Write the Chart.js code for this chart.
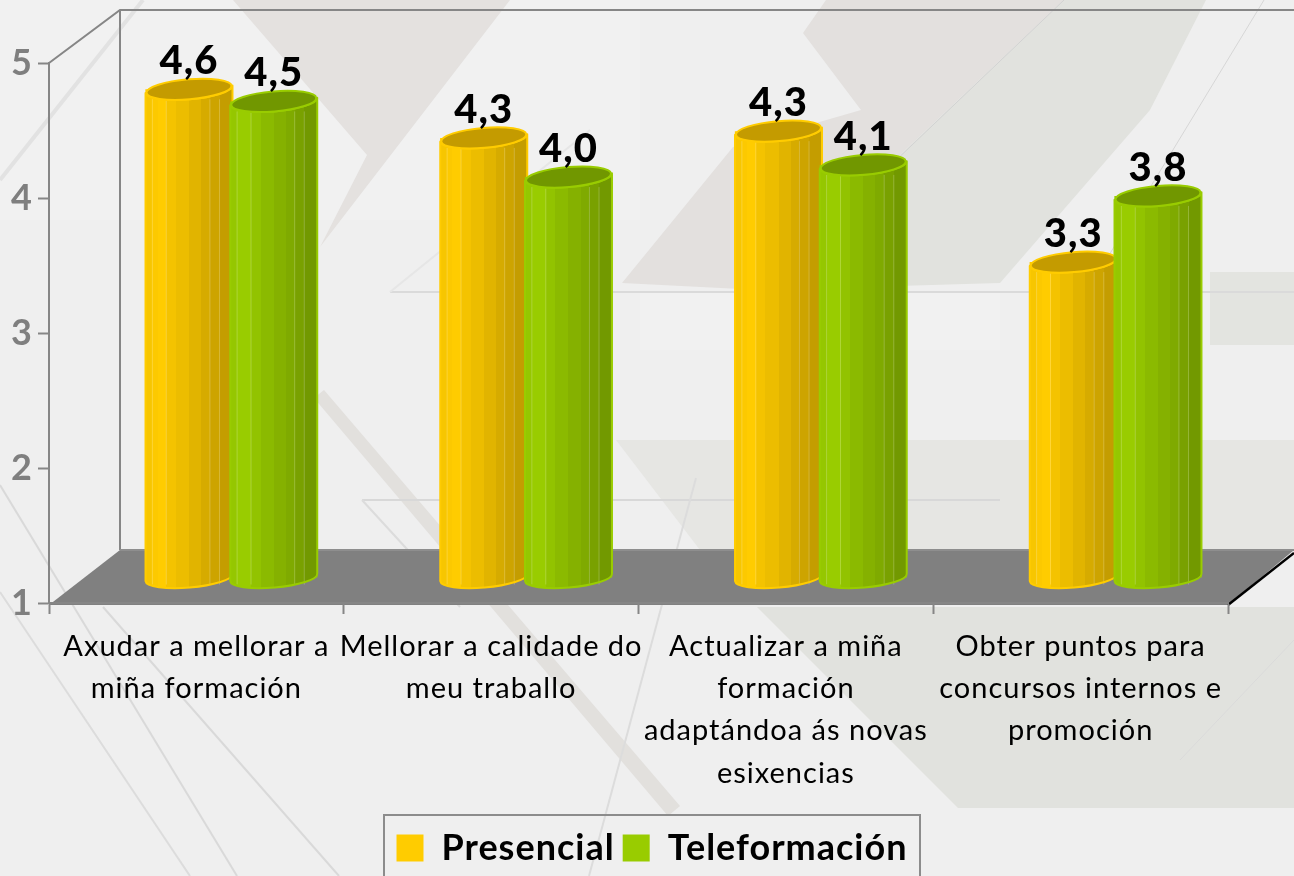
<!DOCTYPE html>
<html><head><meta charset="utf-8">
<style>html,body{margin:0;padding:0;background:#efefef;overflow:hidden}canvas{display:block}</style>
<script src="https://cdn.jsdelivr.net/npm/chart.js@4"></script>
</head><body><canvas id="c" width="1294" height="876"></canvas>
<script>
const categories = [
  ["Axudar a mellorar a","miña formación"],
  ["Mellorar a calidade do","meu traballo"],
  ["Actualizar a miña","formación","adaptándoa ás novas","esixencias"],
  ["Obter puntos para","concursos internos e","promoción"]
];
const presencial = [4.62, 4.26, 4.31, 3.34];
const teleformacion = [4.53, 3.97, 4.06, 3.83];
const yTicks = [1,2,3,4,5];

const FONT = 'Lato, Carlito, "Open Sans", sans-serif';
const DEPTH_X = 35, DEPTH_Y = 25;
const facetStops = [0,.08,.14,.24,.35,.5,.64,.74,.85,1];
const facetColors = [
  ['#f7c600','#fcc900','#ffcc00','#f4c300','#ecbd00','#e1b400','#d6ab00','#cda400','#c49d00'],
  ['#95c700','#99cc00','#99cc00','#92c300','#8bba00','#85b100','#7faa00','#79a100','#729900']
];
const rimColors = ['#ffcc00','#99cc00'];
const capColors = ['#c49b00','#719700'];
const bgShapes = [
  ['#e4e1df',[[233,0],[510,0],[320,247],[367,155]]],
  ['#e3e0de',[[826,0],[1064,0],[905,150],[760,290],[622,283],[733,147],[861,110],[803,33]]],
  ['#e1e2de',[[1064,0],[1206,0],[1150,110],[1000,283],[760,290],[905,150]]],
  ['#e6e6e3',[[616,440],[1294,440],[1294,550],[700,550]]],
  ['#e1e2de',[[757,607],[1294,607],[1294,808],[958,808]]],
  ['#e3e4e0',[[1210,272],[1294,272],[1294,345],[1210,345]]],
  ['#f1f1f1',[[640,292],[1000,292],[1000,350],[640,350]]],
  ['#e2e0dd',[[314,398],[324,390],[680,806],[668,816]]]
];
const bgLines = [
  [[143,0],[0,180],'#e2e2e2',4],
  [[0,485],[237,876],'#d9d9d9',2],
  [[0,592],[190,876],'#dcdcdc',2],
  [[103,607],[339,876],'#d9d9d9',2],
  [[362,500],[1000,500],'#d8d8d8',2],
  [[362,500],[460,607],'#dcdcdc',2],
  [[390,292],[1294,292],'#dadada',2],
  [[390,292],[590,130],'#e6e6e6',2],
  [[696,478],[589,876],'#dcdcdc',2],
  [[1064,0],[760,290],'#d2d2d2',1],
  [[1264,0],[1100,270],'#d6d6d6',1],
  [[1294,640],[1180,760],'#dadada',1]
];
const floorPts = [[49,605],[120,550],[1294,550],[1228,605]];

const scenery = {
  id:'scenery',
  beforeUpdate(chart){ chart.ctx.letterSpacing='1px'; },
  afterLayout(chart){ const l=chart.legend; l.left+=38; l.right+=38; },
  beforeDraw(chart){
    const c = chart.ctx;
    c.save();
    c.fillStyle='#efefef'; c.fillRect(0,0,1294,876);
    c.fillStyle='#f1f1f1'; c.fillRect(0,0,640,220);
    for(const [col,pts] of bgShapes){
      c.fillStyle=col; c.beginPath();
      pts.forEach((p,i)=> i?c.lineTo(p[0],p[1]):c.moveTo(p[0],p[1]));
      c.closePath(); c.fill();
    }
    for(const [a,b,col,w] of bgLines){
      c.strokeStyle=col; c.lineWidth=w; c.beginPath(); c.moveTo(a[0],a[1]); c.lineTo(b[0],b[1]); c.stroke();
    }
    c.strokeStyle='#868686'; c.lineWidth=2;
    c.beginPath(); c.moveTo(49,63); c.lineTo(120,10); c.lineTo(1294,10); c.moveTo(120,10); c.lineTo(120,550); c.stroke();
    c.fillStyle='#808080'; c.beginPath();
    floorPts.forEach((p,i)=> i?c.lineTo(p[0],p[1]):c.moveTo(p[0],p[1]));
    c.closePath(); c.fill();
    c.strokeStyle='#8e8e8e'; c.beginPath(); c.moveTo(120,550); c.lineTo(1294,550); c.stroke();
    c.strokeStyle='#000'; c.lineWidth=2.5; c.beginPath(); c.moveTo(1228,605); c.lineTo(1294,553); c.stroke();
    c.strokeStyle='#8c8c8c'; c.lineWidth=2; c.strokeRect(384,815,536,70);
    c.restore();
  }
};

function shape(c,b,ry,rot){
  const cx=b.x, rx=b.width/2;
  c.beginPath();
  c.ellipse(cx,b.base,rx,ry,rot,0,Math.PI);
  c.ellipse(cx,b.y,rx,ry,rot,Math.PI,0,true);
  c.closePath();
}
const cylinders = {
  id:'cylinders',
  beforeDatasetsDraw(chart){
    const c = chart.ctx, RY=10, ROT=-0.085;
    c.save();
    c.translate(DEPTH_X,-DEPTH_Y);
    [0,1].forEach(i=>{
      const meta = chart.getDatasetMeta(i);
      meta.controller.draw();
      meta.data.forEach(b=>{
        const left=b.x-b.width/2, w=b.width;
        const g=c.createLinearGradient(left,0,left+w,0);
        facetColors[i].forEach((col,k)=>{ g.addColorStop(facetStops[k],col); g.addColorStop(facetStops[k+1],col); });
        shape(c,b,RY,ROT);
        c.fillStyle=g; c.fill();
        c.strokeStyle='rgba(255,255,255,.22)'; c.lineWidth=1;
        [.08,.24,.74,.85].forEach(f=>{
          c.beginPath(); c.moveTo(left+w*f,b.y+10); c.lineTo(left+w*f,b.base+7); c.stroke();
        });
        shape(c,b,RY,ROT);
        c.strokeStyle=rimColors[i]; c.lineWidth=2; c.lineJoin='round'; c.stroke();
        c.beginPath(); c.ellipse(b.x,b.y,b.width/2-1,RY,ROT,0,Math.PI*2);
        c.fillStyle=capColors[i]; c.fill(); c.strokeStyle=rimColors[i]; c.lineWidth=2; c.stroke();
      });
    });
    c.fillStyle='#000'; c.textAlign='center'; c.textBaseline='middle';
    c.font='900 40px '+FONT;
    [0,1].forEach(i=>{
      chart.getDatasetMeta(i).data.forEach((b,k)=>{
        const v=chart.data.datasets[i].data[k];
        c.fillText(v.toFixed(1).replace('.',','),b.x,b.y-28);
      });
    });
    c.restore();
    return false;
  }
};

new Chart(document.getElementById('c'),{
  type:'bar',
  data:{labels:categories,datasets:[
    {label:'Presencial',data:presencial,base:1,backgroundColor:'#ffcc00',categoryPercentage:.575,barPercentage:1.03},
    {label:'Teleformación',data:teleformacion,base:1,backgroundColor:'#99cc00',categoryPercentage:.575,barPercentage:1.03}
  ]},
  plugins:[scenery,cylinders],
  options:{
    responsive:false,animation:false,
    layout:{padding:{top:63,right:66,left:0,bottom:0}},
    plugins:{
      tooltip:{enabled:false},
      legend:{position:'bottom',labels:{
        color:'#000',boxWidth:27,boxHeight:27,padding:8,
        font:{family:FONT,weight:'bold',size:36}
      }}
    },
    scales:{
      x:{
        afterFit(s){s.height=219;},
        border:{color:'#868686',width:2},
        grid:{drawOnChartArea:false,offset:true,tickLength:11,color:'#868686',tickWidth:2},
        ticks:{color:'#000',maxRotation:0,minRotation:0,autoSkip:false,padding:12,font:{family:FONT,size:29,lineHeight:1.45}}
      },
      y:{
        min:1,max:5,
        afterFit(s){s.width=49;},
        afterBuildTicks(s){s.ticks=yTicks.map(v=>({value:v}));},
        border:{color:'#868686',width:2},
        grid:{drawOnChartArea:false,tickLength:11,color:'#868686',tickWidth:2},
        ticks:{color:'#7f7f7f',padding:5,font:{family:FONT,weight:'bold',size:36}}
      }
    }
  }
});
</script></body></html>
